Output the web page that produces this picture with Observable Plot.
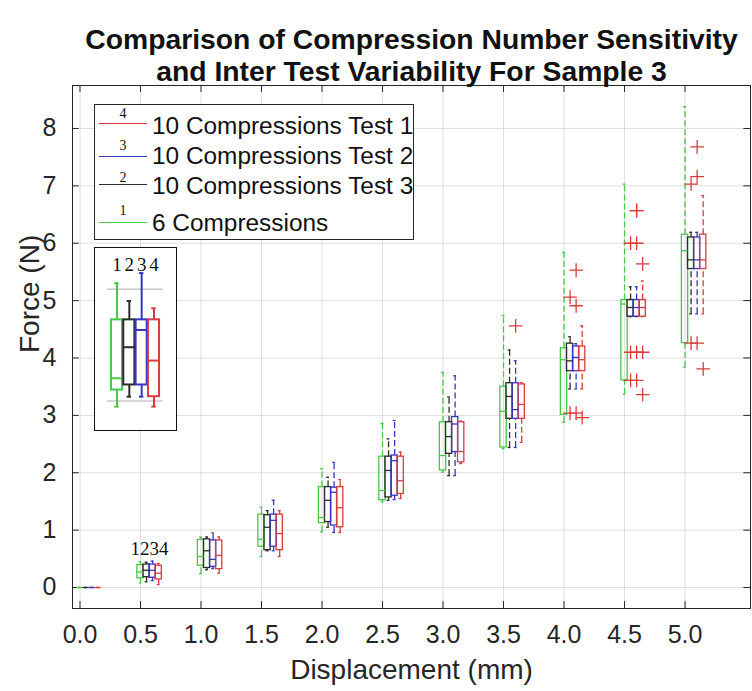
<!DOCTYPE html>
<html>
<head>
<meta charset="utf-8">
<script src="https://cdn.jsdelivr.net/npm/d3@7"></script>
<script src="https://cdn.jsdelivr.net/npm/@observablehq/plot@0.6"></script>
<style>
  body { margin: 0; background: #fff; font-family: "Liberation Sans", Arial, sans-serif; }
  #wrap { position: relative; width: 752px; height: 691px; overflow: hidden; background: #fff; }
  #main { position: absolute; left: 0; top: 0; }
  #legend { position: absolute; left: 94px; top: 104px; width: 320px; height: 136px; border: 1px solid #262626; background: #fff; box-sizing: border-box; }
  #legend .ln { position: absolute; left: 4px; width: 48px; height: 0; border-top: 1.3px solid; }
  #legend .num { position: absolute; left: 4px; width: 48px; text-align: center; font-family: "Liberation Serif", "DejaVu Serif", serif; font-size: 14px; line-height: 14px; color: #111; }
  #legend .txt { position: absolute; left: 57px; font-size: 24.4px; line-height: 26px; color: #111; white-space: nowrap; }
  #inset { position: absolute; left: 94px; top: 247px; width: 83px; height: 184px; border: 1.5px solid #111; background: #fff; box-sizing: border-box; overflow: hidden; }
</style>
</head>
<body>
<div id="wrap">
  <div id="main"></div>
  <div id="legend"></div>
  <div id="inset"></div>
</div>
<script>
// ---------------- data ----------------
const titleLines = ["Comparison of Compression Number Sensitivity", "and Inter Test Variability For Sample 3"];
const xLabel = "Displacement (mm)";
const yLabel = "Force (N)";

const displacement = [0, 0.5, 1.0, 1.5, 2.0, 2.5, 3.0, 3.5, 4.0, 4.5, 5.0];
const forceTicks = [0, 1, 2, 3, 4, 5, 6, 7, 8];

const seriesNames = ["6 Compressions", "10 Compressions Test 3", "10 Compressions Test 2", "10 Compressions Test 1"];
const seriesNumbers = ["1", "2", "3", "4"];
const seriesColors = ["#45c845", "#2b2b2b", "#3636c4", "#d83c3c"];
const outlierColor = "#d83c3c";

// 6 Compressions (green)
const greenLo  = [0, 0.08, 0.24, 0.54, 0.97, 1.49, 2.01, 2.42, 2.88, 3.37, 3.84];
const greenQ1  = [0, 0.16, 0.38, 0.71, 1.12, 1.52, 2.04, 2.44, 3.01, 3.61, 4.26];
const greenMed = [0, 0.27, 0.54, 0.84, 1.22, 1.69, 2.30, 3.07, 3.97, 4.94, 5.87];
const greenQ3  = [0, 0.39, 0.83, 1.27, 1.75, 2.28, 2.88, 3.50, 4.17, 5.01, 6.15];
const greenHi  = [0, 0.45, 0.88, 1.40, 2.07, 2.86, 3.75, 4.74, 5.84, 7.03, 8.38];
// 10 Compressions Test 3 (black)
const blackLo  = [0, 0.10, 0.31, 0.64, 1.05, 1.52, 1.95, 2.44, 3.46, 4.72, 4.77];
const blackQ1  = [0, 0.18, 0.34, 0.65, 1.14, 1.57, 2.33, 2.94, 3.77, 4.72, 5.55];
const blackMed = [0, 0.30, 0.64, 1.05, 1.52, 2.04, 2.63, 3.33, 3.95, 4.88, 5.71];
const blackQ3  = [0, 0.40, 0.84, 1.26, 1.75, 2.28, 2.88, 3.56, 4.25, 5.01, 6.10];
const blackHi  = [0, 0.44, 0.88, 1.34, 1.92, 2.59, 3.32, 4.14, 4.37, 5.24, 6.19];
// 10 Compressions Test 2 (blue)
const blueLo   = [0, 0.12, 0.33, 0.64, 0.96, 1.53, 1.95, 2.44, 3.46, 4.72, 4.77];
const blueQ1   = [0, 0.17, 0.36, 0.71, 1.08, 1.60, 2.36, 2.94, 3.77, 4.72, 5.55];
const blueMed  = [0, 0.30, 0.49, 1.17, 1.66, 2.21, 2.85, 3.10, 4.01, 4.88, 5.71];
const blueQ3   = [0, 0.40, 0.82, 1.27, 1.74, 2.30, 2.97, 3.56, 4.20, 5.01, 6.10];
const blueHi   = [0, 0.46, 0.95, 1.52, 2.18, 2.91, 3.69, 3.95, 4.25, 5.24, 6.19];
// 10 Compressions Test 1 (red)
const redLo    = [0, 0.05, 0.25, 0.54, 0.96, 1.55, 2.16, 2.53, 3.46, 4.72, 4.77];
const redQ1    = [0, 0.14, 0.32, 0.65, 1.05, 1.63, 2.18, 2.94, 3.77, 4.72, 5.55];
const redMed   = [0, 0.25, 0.56, 0.94, 1.39, 1.86, 2.37, 3.19, 3.97, 4.88, 5.71];
const redQ3    = [0, 0.38, 0.82, 1.27, 1.75, 2.28, 2.88, 3.54, 4.20, 5.01, 6.15];
const redHi    = [0, 0.42, 0.88, 1.34, 1.88, 2.36, 2.90, 3.57, 4.56, 5.34, 6.83];

// outliers: displacement group, series index, force
const outlierGroup  = [3.5, 4.0, 4.0, 4.0, 4.0, 4.0, 4.0, 4.5, 4.5, 4.5, 4.5, 4.5, 4.5, 4.5, 4.5, 4.5, 4.5, 4.5, 5.0, 5.0, 5.0, 5.0, 5.0, 5.0];
const outlierSeries = [2,   1,   1,   2,   2,   2,   3,   1,   1,   1,   2,   2,   2,   2,   3,   3,   3,   2,   1,   1,   2,   2,   2,   3];
const outlierForce  = [4.56, 5.06, 3.04, 5.53, 4.91, 3.04, 2.96, 6.00, 4.10, 3.61, 6.57, 6.00, 4.10, 3.61, 5.64, 4.10, 3.36, 6.57, 7.03, 4.26, 7.68, 7.16, 4.26, 3.81];

// group label above the 0.5 mm group
const groupLabel = "1234";
const groupLabelAt = 0.5;
const groupLabelForce = 0.68;

// inset (enlarged example of one group, arbitrary units)
const insetLo  = [1.06, 1.49, 1.49, 1.06];
const insetQ1  = [1.78, 2.00, 2.00, 1.49];
const insetMed = [2.29, 3.64, 4.39, 3.06];
const insetQ3  = [4.83, 4.83, 4.83, 4.83];
const insetHi  = [6.42, 5.65, 6.86, 5.33];
const insetRefLines = [6.16, 1.30];
const insetLabelLevel = 7.22;

// ---------------- build tables ----------------
const seriesOffset = 0.05;   // spacing between boxes within a group (x units)
const boxHalf = 0.026;
const capHalf = 0.012;
const stats = [
  [greenLo, greenQ1, greenMed, greenQ3, greenHi],
  [blackLo, blackQ1, blackMed, blackQ3, blackHi],
  [blueLo, blueQ1, blueMed, blueQ3, blueHi],
  [redLo, redQ1, redMed, redQ3, redHi]
];
const boxes = [];
stats.forEach(([lo, q1, med, q3, hi], k) => {
  displacement.forEach((d, i) => {
    boxes.push({x: d + k * seriesOffset, lo: lo[i], q1: q1[i], med: med[i], q3: q3[i], hi: hi[i], color: seriesColors[k]});
  });
});
const outliers = outlierGroup.map((g, i) => ({x: g + outlierSeries[i] * seriesOffset, y: outlierForce[i]}));

const xDomain = [-0.062, 5.541];
const yDomain = [-0.366, 8.749];

const lw = 1.3;
const dash = "6,3";

const mainPlot = Plot.plot({
  width: 752,
  height: 691,
  marginLeft: 72,
  marginRight: 2,
  marginTop: 85,
  marginBottom: 83,
  style: {fontFamily: "'Liberation Sans', Arial, sans-serif", color: "#262626", background: "transparent"},
  x: {domain: xDomain, ticks: displacement},
  y: {domain: yDomain, ticks: forceTicks},
  marks: [
    Plot.gridX(displacement, {stroke: "#dedede", strokeOpacity: 1}),
    Plot.gridY(forceTicks, {stroke: "#dedede", strokeOpacity: 1}),
    // inner tick marks (bottom, top, left, right)
    Plot.ruleX(displacement, {x: d => d, y1: yDomain[0], y2: yDomain[0] + 0.12, stroke: "#262626"}),
    Plot.ruleX(displacement, {x: d => d, y1: yDomain[1], y2: yDomain[1] - 0.12, stroke: "#262626"}),
    Plot.ruleY(forceTicks, {y: d => d, x1: xDomain[0], x2: xDomain[0] + 0.055, stroke: "#262626"}),
    Plot.ruleY(forceTicks, {y: d => d, x1: xDomain[1], x2: xDomain[1] - 0.055, stroke: "#262626"}),
    // whiskers
    Plot.ruleX(boxes, {x: "x", y1: "q3", y2: "hi", stroke: "color", strokeWidth: lw, strokeDasharray: dash}),
    Plot.ruleX(boxes, {x: "x", y1: "lo", y2: "q1", stroke: "color", strokeWidth: lw, strokeDasharray: dash}),
    Plot.ruleY(boxes, {y: "hi", x1: d => d.x - capHalf, x2: d => d.x + capHalf, stroke: "color", strokeWidth: lw}),
    Plot.ruleY(boxes, {y: "lo", x1: d => d.x - capHalf, x2: d => d.x + capHalf, stroke: "color", strokeWidth: lw}),
    // boxes
    Plot.rect(boxes, {x1: d => d.x - boxHalf, x2: d => d.x + boxHalf, y1: "q1", y2: "q3", stroke: "color", fill: "none", strokeWidth: lw}),
    // medians
    Plot.ruleY(boxes, {y: "med", x1: d => d.x - boxHalf, x2: d => d.x + boxHalf, stroke: "color", strokeWidth: lw}),
    // outliers
    Plot.dot(outliers, {x: "x", y: "y", symbol: "plus", stroke: outlierColor, r: 4.5, strokeWidth: 1.3}),
    // group label
    Plot.text([groupLabel], {x: groupLabelAt + 1.5 * seriesOffset, y: groupLabelForce, text: d => d, fontFamily: "'Liberation Serif', serif", fontSize: 19, fill: "#111"}),
    Plot.frame({stroke: "#262626", strokeWidth: 1}),
    Plot.axisX(displacement, {tickSize: 0, tickPadding: 17, fontSize: 25, tickFormat: d3.format(".1f"), label: null, fill: "#262626"}),
    Plot.axisY(forceTicks, {tickSize: 0, tickPadding: 16, fontSize: 25, tickFormat: d3.format("d"), label: null, fill: "#262626"}),
    // axis labels
    Plot.text([xLabel], {frameAnchor: "bottom", dy: 70, text: d => d, fontSize: 28, fill: "#262626"}),
    Plot.text([yLabel], {frameAnchor: "left", dx: -42, dy: 6, rotate: -90, text: d => d, fontSize: 28, fill: "#262626"}),
    // title
    Plot.text([titleLines[0]], {frameAnchor: "top", dy: -57, text: d => d, fontSize: 28.3, fontWeight: "bold", fill: "#111"}),
    Plot.text([titleLines[1]], {frameAnchor: "top", dy: -25, text: d => d, fontSize: 28.3, fontWeight: "bold", fill: "#111"})
  ]
});
document.getElementById("main").appendChild(mainPlot);

// ---------------- legend (HTML) ----------------
const legendOrder = [3, 2, 1, 0];
const legendTextY = [21.3, 51, 81, 117.7];
const legendLineY = [18.7, 52, 79.3, 117.7];
const legendNumY = [2, 34, 65.7, 99];
const legend = document.getElementById("legend");
legendOrder.forEach((k, r) => {
  const ln = document.createElement("div");
  ln.className = "ln";
  ln.style.top = (legendLineY[r] - 0.65) + "px";
  ln.style.borderTopColor = seriesColors[k];
  legend.appendChild(ln);
  const num = document.createElement("div");
  num.className = "num";
  num.style.top = legendNumY[r] + "px";
  num.textContent = seriesNumbers[k];
  legend.appendChild(num);
  const txt = document.createElement("div");
  txt.className = "txt";
  txt.style.top = (legendTextY[r] - 13) + "px";
  txt.textContent = seriesNames[k];
  legend.appendChild(txt);
});

// ---------------- inset ----------------
const insetRows = seriesNames.map((n, k) => ({k, lo: insetLo[k], q1: insetQ1[k], med: insetMed[k], q3: insetQ3[k], hi: insetHi[k], color: seriesColors[k], label: seriesNumbers[k]}));
const insetPlot = Plot.plot({
  width: 80,
  height: 181,
  margin: 0,
  style: {background: "transparent"},
  x: {domain: [0, 3], range: [21.5, 58.5], axis: null},
  y: {domain: [0.065, 7.93], axis: null},
  marks: [
    Plot.ruleY(insetRefLines, {y: d => d, x1: -0.75, x2: 3.75, stroke: "#c8c8c8", strokeWidth: 1.5}),
    Plot.ruleX(insetRows, {x: "k", y1: "q3", y2: "hi", stroke: "color", strokeWidth: 2}),
    Plot.ruleX(insetRows, {x: "k", y1: "lo", y2: "q1", stroke: "color", strokeWidth: 2}),
    Plot.ruleY(insetRows, {y: "hi", x1: d => d.k - 0.18, x2: d => d.k + 0.18, stroke: "color", strokeWidth: 2}),
    Plot.ruleY(insetRows, {y: "lo", x1: d => d.k - 0.18, x2: d => d.k + 0.18, stroke: "color", strokeWidth: 2}),
    Plot.rect(insetRows, {x1: d => d.k - 0.45, x2: d => d.k + 0.45, y1: "q1", y2: "q3", stroke: "color", fill: "none", strokeWidth: 2}),
    Plot.ruleY(insetRows, {y: "med", x1: d => d.k - 0.45, x2: d => d.k + 0.45, stroke: "color", strokeWidth: 2}),
    Plot.text(insetRows, {x: "k", y: insetLabelLevel, text: "label", fontFamily: "'Liberation Serif', serif", fontSize: 19, fill: "#111"})
  ]
});
document.getElementById("inset").appendChild(insetPlot);
</script>
</body>
</html>
